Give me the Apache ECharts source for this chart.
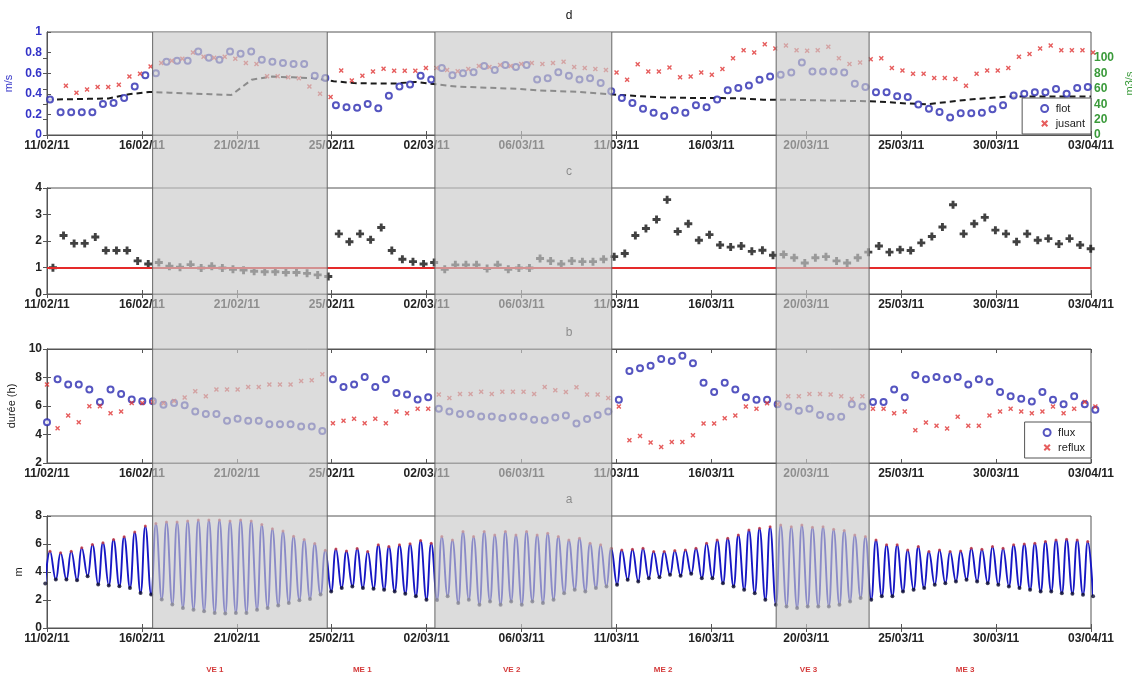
<!DOCTYPE html>
<html><head><meta charset="utf-8">
<script src="https://cdn.jsdelivr.net/npm/echarts@6/dist/echarts.min.js"></script>
<style>html,body{margin:0;padding:0;background:#fff}#c{width:1132px;height:676px}</style>
</head><body><div id="c"></div>
<script>
// ---------- data ----------
const tickLabels = ['11/02/11','16/02/11','21/02/11','25/02/11','02/03/11','06/03/11','11/03/11','16/03/11','20/03/11','25/03/11','30/03/11','03/04/11'];
const spanDays = 51;          // 11/02/11 -> 03/04/11
const cycle = 0.5173;         // tidal cycle (days)
const flotStart = 0.147, jusantStart = 0.405, ratioStart = 0.29, fluxStart = 0.0, hwStart = 0.147;

// panel d : velocities (m/s)
const flot = [0.345,0.22,0.22,0.22,0.22,0.30,0.31,0.36,0.47,0.58,
 0.60,0.71,0.72,0.72,0.81,0.75,0.73,0.81,0.79,0.81,
 0.73,0.71,0.70,0.69,0.69,0.575,0.553,0.29,0.27,0.265,
 0.30,0.26,0.38,0.47,0.49,0.575,0.54,0.65,0.58,0.60,
 0.61,0.67,0.63,0.68,0.66,0.68,0.54,0.55,0.61,0.575,
 0.54,0.55,0.505,0.425,0.36,0.31,0.256,0.217,0.185,0.24,
 0.217,0.29,0.27,0.345,0.435,0.457,0.48,0.537,0.569,0.585,
 0.607,0.703,0.617,0.617,0.617,0.607,0.498,0.466,0.415,0.415,
 0.377,0.37,0.297,0.256,0.224,0.17,0.21,0.21,0.217,0.25,
 0.288,0.383,0.40,0.415,0.415,0.447,0.40,0.457,0.466];
const jusant = [null,0.479,0.409,0.441,0.466,0.466,0.489,0.569,0.594,0.665,
 0.70,0.72,0.74,0.80,0.76,0.75,0.76,0.74,0.70,0.69,
 0.57,0.57,0.56,0.55,0.47,0.40,0.37,0.626,0.53,0.575,
 0.617,0.642,0.623,0.623,0.623,0.65,0.65,0.63,0.62,0.64,
 0.67,0.66,0.68,0.67,0.69,0.70,0.69,0.70,0.71,0.66,
 0.65,0.64,0.63,0.607,0.537,0.687,0.617,0.617,0.655,0.56,
 0.569,0.607,0.585,0.64,0.744,0.824,0.80,0.88,0.84,0.87,
 0.824,0.818,0.824,0.856,0.744,0.69,0.703,0.735,0.744,0.65,
 0.626,0.594,0.594,0.553,0.553,0.543,0.479,0.594,0.626,0.626,
 0.65,0.76,0.786,0.84,0.87,0.824,0.824,0.824,0.80];
// daily river discharge (m3/s)
const debit = [46,46.5,47,47.5,53,56,55,54,53,52,
 72,76,75,74,70,67.5,67,67,69,66,
 63,62,61,60,58,57,56,54,52,50.5,
 49,48.5,48,48,47.5,46,46,45.5,45,44.5,
 44,43,41,40,43,46,48,50,50,50,
 50,50];
// panel c : ratio
const ratio = [0.99,2.21,1.91,1.91,2.15,1.64,1.64,1.64,1.25,1.13,
 1.19,1.05,1.01,1.11,0.98,1.05,0.98,0.93,0.90,0.86,
 0.84,0.84,0.81,0.81,0.78,0.72,0.66,2.27,1.97,2.27,
 2.05,2.51,1.64,1.31,1.22,1.13,1.19,0.93,1.10,1.10,
 1.10,0.96,1.10,0.93,0.98,0.98,1.34,1.25,1.13,1.25,
 1.22,1.22,1.31,1.41,1.53,2.21,2.47,2.81,3.56,2.36,
 2.65,2.03,2.24,1.85,1.77,1.81,1.61,1.65,1.46,1.49,
 1.37,1.17,1.37,1.41,1.25,1.17,1.37,1.58,1.81,1.58,
 1.67,1.64,1.93,2.17,2.53,3.37,2.27,2.65,2.89,2.41,
 2.27,1.97,2.27,2.03,2.09,1.89,2.09,1.85,1.71];
// panel b : durations (h)
const flux = [4.86,7.87,7.51,7.51,7.16,6.28,7.16,6.85,6.45,6.33,
 6.33,6.09,6.21,6.05,5.62,5.43,5.43,4.96,5.10,4.96,
 4.96,4.72,4.72,4.72,4.56,4.56,4.25,7.87,7.33,7.51,
 8.04,7.33,7.87,6.92,6.80,6.45,6.62,5.81,5.62,5.43,
 5.43,5.27,5.27,5.15,5.27,5.27,5.03,5.00,5.20,5.33,
 4.78,5.09,5.37,5.61,6.44,8.46,8.65,8.82,9.29,9.15,
 9.53,9.00,7.63,6.99,7.63,7.15,6.61,6.44,6.44,6.13,
 5.97,5.66,5.80,5.37,5.25,5.25,6.13,5.97,6.28,6.28,
 7.15,6.61,8.18,7.87,8.03,7.87,8.03,7.51,7.87,7.70,
 6.99,6.68,6.51,6.32,6.99,6.44,6.13,6.68,6.13,5.73];
const reflux = [7.51,4.44,5.34,4.86,5.98,5.98,5.50,5.62,6.21,6.21,
 6.28,6.20,6.35,6.60,7.04,6.69,7.16,7.16,7.16,7.33,
 7.33,7.51,7.51,7.51,7.75,7.80,8.22,4.79,4.96,5.10,
 4.79,5.10,4.79,5.62,5.50,5.81,5.81,6.80,6.57,6.85,
 6.85,7.00,6.85,7.00,7.00,7.00,6.85,7.33,7.10,6.99,
 7.32,6.80,6.80,6.56,5.97,3.59,3.90,3.43,3.12,3.47,
 3.47,3.95,4.78,4.78,5.14,5.33,5.97,5.80,6.20,6.13,
 6.68,6.68,6.85,6.85,6.80,6.68,6.50,6.68,5.80,5.80,
 5.49,5.61,4.30,4.85,4.61,4.42,5.25,4.61,4.61,5.33,
 5.61,5.80,5.61,5.49,5.61,5.97,5.49,5.80,6.28,5.97];
// panel a : water level, high waters and low waters (m)
const hw = [5.49,5.37,5.49,5.73,5.97,6.09,6.32,6.52,6.85,7.28,
 7.47,7.57,7.57,7.64,7.71,7.71,7.71,7.64,7.71,7.64,
 7.40,7.09,6.92,6.56,6.32,6.04,5.56,5.65,5.50,5.68,
 5.46,5.94,5.82,5.94,6.01,6.25,6.06,6.53,6.29,6.89,
 6.53,6.89,6.65,6.89,6.65,6.89,6.65,6.77,6.53,6.29,
 6.41,6.06,5.94,5.70,5.58,5.63,5.70,5.46,5.46,5.53,
 5.58,5.70,6.06,6.29,6.41,6.65,7.00,7.13,7.24,7.36,
 7.24,7.36,7.20,7.24,7.05,6.96,6.65,6.53,6.29,5.94,
 5.94,5.58,5.82,5.46,5.58,5.46,5.50,5.70,5.63,5.82,
 5.70,5.94,6.00,6.06,6.18,6.29,6.34,6.29,6.18];
const lw = [3.17,3.46,3.46,3.41,3.70,3.10,3.03,2.98,2.86,2.50,
 2.39,2.03,1.67,1.43,1.31,1.19,1.07,1.03,1.07,1.07,
 1.31,1.43,1.60,1.79,1.98,2.08,2.39,2.61,2.85,2.97,
 2.85,2.80,2.73,2.61,2.45,2.26,2.02,2.00,2.26,1.78,
 2.02,1.66,1.90,1.66,1.90,1.66,1.90,1.78,2.02,2.49,
 2.73,2.61,2.85,2.97,3.09,3.44,3.33,3.56,3.63,3.80,
 3.73,3.87,3.56,3.56,3.20,2.97,2.73,2.49,2.02,1.66,
 1.54,1.43,1.54,1.54,1.54,1.66,1.90,2.14,2.02,2.26,
 2.26,2.61,2.73,2.85,3.09,3.20,3.33,3.44,3.33,3.20,
 3.09,2.97,2.85,2.73,2.61,2.61,2.49,2.45,2.37,2.26];
// shaded spring-tide periods (days from 11/02/11) and phase labels
const bands = [[5.16,13.69],[18.95,27.59],[35.62,40.16]];
const phaseNames = ['VE 1','ME 1','VE 2','ME 2','VE 3','ME 3'];
const phaseDays = [8.2,15.4,22.7,30.1,37.2,44.85];
const panelTitles = ['d','c','b','a'];

// ---------- chart ----------
const FONT = 'Liberation Sans';
const AX = '#555';
const BLUE = '#2a2ab0', RED = '#e03434', GREEN = '#3a9a3a';
const XPATH = 'path://M0,2L2,0L5,3L8,0L10,2L7,5L10,8L8,10L5,7L2,10L0,8L3,5Z';
const PLUS = 'path://M3.2,0H6.8V3.2H10V6.8H6.8V10H3.2V6.8H0V3.2H3.2Z';

const nT = tickLabels.length - 1;
const tickVals = tickLabels.map((_, k) => k * spanDays / nT);
const tickFmt = v => tickLabels[Math.round(v * nT / spanDays)] || '';
const series2d = (arr, start) => arr.map((v, i) => [start + i * cycle, v]);

const gridDefs = [{top:32,height:103},{top:188,height:106},{top:349,height:114},{top:516,height:112}];
const grid = gridDefs.map(g => ({left:47, right:41, top:g.top, height:g.height, show:true,
  borderColor:AX, borderWidth:1, backgroundColor:'transparent', containLabel:false, outerBoundsMode:'none'}));

const xAxis = [];
grid.forEach((g, gi) => {
  const base = {gridIndex:gi, type:'value', min:0, max:spanDays, interval:spanDays/nT,
    axisLine:{show:true, lineStyle:{color:AX}}, splitLine:{show:false},
    axisTick:{show:true, inside:true, length:4, lineStyle:{color:AX}, customValues:tickVals}};
  xAxis.push(Object.assign({}, base, {position:'bottom',
    axisLabel:{show:true, customValues:tickVals, formatter:tickFmt, margin:5, color:'#222',
      fontFamily:FONT, fontSize:12, fontWeight:'bold', showMinLabel:true, showMaxLabel:true, hideOverlap:false}}));
  xAxis.push(Object.assign({}, base, {position:'top', axisLabel:{show:false}}));
});

const yl = (extra) => Object.assign({type:'value', splitLine:{show:false},
  axisLine:{show:true, lineStyle:{color:AX}},
  axisTick:{show:true, inside:true, length:4, lineStyle:{color:AX}},
  axisLabel:{margin:5, color:'#222', fontFamily:FONT, fontSize:12, fontWeight:'bold'},
  nameLocation:'middle', nameTextStyle:{fontFamily:FONT, fontSize:11, color:'#222'}}, extra);

const yAxis = [
  yl({gridIndex:0, position:'left', min:0, max:1, interval:0.2, name:'m/s', nameGap:28,
      nameTextStyle:{fontFamily:FONT, fontSize:11, color:'#3434c8'},
      axisLabel:{margin:5, color:'#3434c8', fontFamily:FONT, fontSize:12, fontWeight:'bold'}}),
  yl({gridIndex:0, position:'right', min:0, max:134, interval:20, name:'m3/s', nameGap:27,
      nameTextStyle:{fontFamily:FONT, fontSize:11, color:GREEN},
      axisTick:{show:true, inside:true, length:4, lineStyle:{color:AX}, customValues:[0,20,40,60,80,100]},
      axisLabel:{margin:3, color:GREEN, fontFamily:FONT, fontSize:12, fontWeight:'bold',
        customValues:[0,20,40,60,80,100], formatter: v => v > 100 ? '' : String(v)}}),
  yl({gridIndex:1, position:'left', min:0, max:4, interval:1}),
  yl({gridIndex:1, position:'right', min:0, max:4, interval:1, axisLabel:{show:false}}),
  yl({gridIndex:2, position:'left', min:2, max:10, interval:2, name:'durée (h)', nameGap:24}),
  yl({gridIndex:2, position:'right', min:2, max:10, interval:2, axisLabel:{show:false}}),
  yl({gridIndex:3, position:'left', min:0, max:8, interval:2, name:'m', nameGap:18}),
  yl({gridIndex:3, position:'right', min:0, max:8, interval:2, axisLabel:{show:false}})
];

// tide curve: alternating low / high waters
const tide = [];
const hwPts = [], lwPts = [];
for (let i = 0; i < lw.length; i++) {
  const tl = i < hw.length ? hwStart + (i - 0.45) * cycle : hwStart + (i - 1 + 0.5) * cycle;
  tide.push([tl, lw[i]]); lwPts.push([tl, lw[i]]);
  if (i < hw.length) { const th = hwStart + i * cycle; tide.push([th, hw[i]]); hwPts.push([th, hw[i]]); }
}

const sc = (name, xi, yi, data, sym, size, style, z) => ({name, type:'scatter', xAxisIndex:xi, yAxisIndex:yi,
  data, symbol:sym, symbolSize:size, itemStyle:style, clip:false, z:z||3, emphasis:{disabled:true}});

const series = [
  sc('flot', 0, 0, series2d(flot, flotStart), 'emptyCircle', 6, {color:BLUE, borderWidth:1.5}),
  sc('jusant', 0, 0, series2d(jusant, jusantStart).filter(p => p[1] !== null), XPATH, 5, {color:RED}),
  {name:'débit', type:'line', xAxisIndex:0, yAxisIndex:1, data:debit.map((v, d) => [d, v]), symbol:'none',
   lineStyle:{color:'#1a1a1a', width:2, type:[6,4]}, z:2},
  Object.assign(sc('ratio', 2, 2, series2d(ratio, ratioStart), PLUS, 8, {color:'#111'}), {
    markLine:{silent:true, symbol:'none', label:{show:false}, animation:false,
      lineStyle:{color:'#e52a2a', width:2, type:'solid'}, data:[{yAxis:1}]}}),
  sc('flux', 4, 4, series2d(flux, fluxStart), 'emptyCircle', 6, {color:BLUE, borderWidth:1.5}),
  sc('reflux', 4, 4, series2d(reflux, fluxStart), XPATH, 5, {color:RED}),
  {name:'hauteur', type:'line', xAxisIndex:6, yAxisIndex:6, data:tide, symbol:'none', smooth:0.45,
   lineStyle:{color:'#1717c4', width:1.9}, z:2},
  sc('PM', 6, 6, hwPts, 'circle', 3, {color:'#d04040'}, 3),
  sc('BM', 6, 6, lwPts, 'circle', 4, {color:'#101030'}, 3)
];

const legendBase = {orient:'vertical', right:41, backgroundColor:'#fff', borderColor:AX, borderWidth:1,
  borderRadius:0, padding:[5,6,5,18], itemGap:4, itemWidth:12, itemHeight:7,
  textStyle:{fontFamily:FONT, fontSize:11, color:'#222'}, selectedMode:false};

const chart = echarts.init(document.getElementById('c'));
chart.setOption({
  animation:false, backgroundColor:'#fff',
  grid, xAxis, yAxis, series,
  legend:[Object.assign({}, legendBase, {data:['flot','jusant'], top:98}),
          Object.assign({}, legendBase, {data:['flux','reflux'], top:422})]
});

// shaded periods, edge lines, titles, phase labels — positioned through the axes
function overlay() {
  const px = d => chart.convertToPixel({xAxisIndex:0}, d);
  const yTop = chart.convertToPixel({yAxisIndex:0}, 1);
  const yBot = chart.convertToPixel({yAxisIndex:6}, 0);
  const els = [];
  panelTitles.forEach((t, i) => {
    const gTop = chart.convertToPixel({yAxisIndex:2*i}, yAxis[2*i].max);
    els.push({type:'text', x:px(spanDays/2), y:gTop - 16, z:1, silent:true,
      style:{text:t, fill:'#111', font:'12px ' + FONT, align:'center', verticalAlign:'middle',
             textAlign:'center', textVerticalAlign:'middle'}});
  });
  bands.forEach(([a, b]) => {
    const xa = px(a), xb = px(b);
    els.push({type:'rect', silent:true, z:100, shape:{x:xa, y:yTop, width:xb - xa, height:yBot - yTop},
      style:{fill:'rgba(202,202,202,0.65)'}});
    [xa, xb].forEach(xx => els.push({type:'line', silent:true, z:101,
      shape:{x1:xx, y1:yTop, x2:xx, y2:yBot}, style:{stroke:'#666', lineWidth:1}}));
  });
  phaseNames.forEach((n, i) => els.push({type:'text', x:px(phaseDays[i]), y:yBot + 42, z:101, silent:true,
    style:{text:n, fill:'#d43a3a', font:'bold 8px ' + FONT, align:'center', verticalAlign:'middle',
           textAlign:'center', textVerticalAlign:'middle'}}));
  chart.setOption({graphic:{elements:els}});
}
overlay();
</script>
</body></html>
